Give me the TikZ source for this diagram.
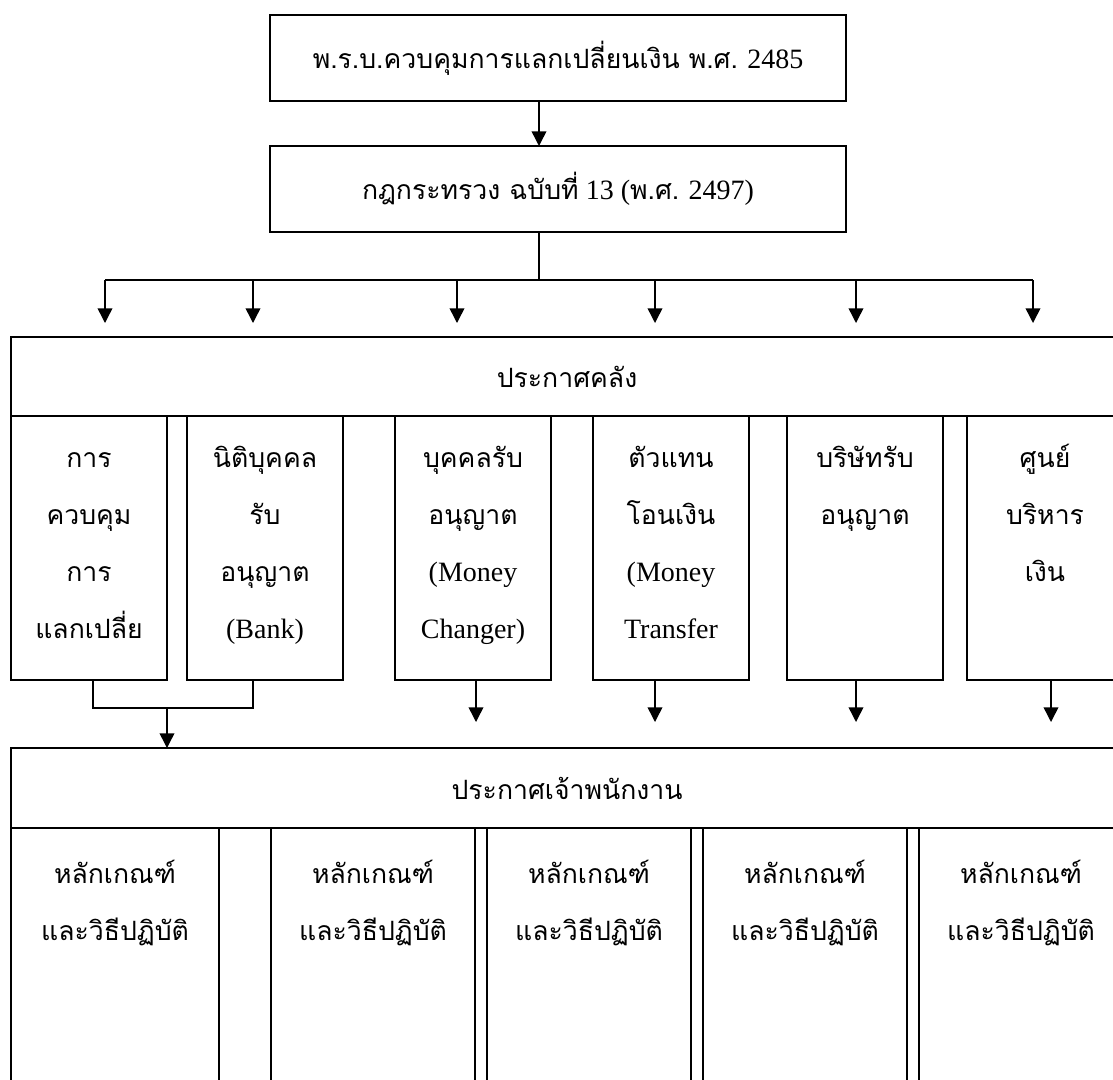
\documentclass[tikz,border=0pt]{standalone}
\usepackage{fontspec}
\setmainfont{Liberation Serif}
\newfontfamily\thaifont[Script=Thai,Scale=0.95]{Loma}
\usepackage{tikz}
\usetikzlibrary{arrows.meta,positioning,fit,calc}
\newcommand{\thtxt}[1]{{\thaifont #1}}
\newcommand{\firstln}{\rule{0pt}{22pt}}
\tikzset{
    box/.style={draw,line width=1.1pt,inner sep=0pt,outer sep=0pt},
    txt/.style={align=center,inner sep=0pt,font=\fontsize{21}{42.75}\selectfont},
    arr/.style={-{Triangle[length=11pt,width=11pt]},line width=1.1pt},
    link/.style={line width=1.1pt}
}

\begin{document}
\begin{tikzpicture}[x=0.75pt,y=-0.75pt]
  \useasboundingbox (0,0) rectangle (1113,1079);
  \clip (0,0) rectangle (1113,1079);
  % act and ministerial regulation
  \node[box,fit={(270,15) (846,101)}] (act) {};
  \node[txt] (acttxt) at (act.center) {\thtxt{พ.ร.บ.ควบคุมการแลกเปลี่ยนเงิน พ.ศ.} 2485};
  \node[box,fit={(270,146) (846,232)}] (reg) {};
  \node[txt] (regtxt) at (reg.center) {\thtxt{กฎกระทรวง ฉบับที่} 13 (\thtxt{พ.ศ.} 2497)};
  \coordinate (spine) at (539,0);
  \coordinate (bus) at (0,280);
  \draw[arr] (act.south -| spine) -- (reg.north -| spine);
  \draw[link] (reg.south -| spine) -- (spine |- bus);
  % branch arrows
  \foreach \x [count=\i] in {105,253,457,655,856,1033}
    \coordinate (u\i) at (\x,323);
  \draw[link] (u1 |- bus) -- (u6 |- bus);
  \foreach \i in {1,...,6}
    \draw[arr] (u\i |- bus) -- (u\i);
  % ministry notification
  \node[box,fit={(11,337) (1123,416)}] (notice) {};
  \node[txt] (noticetxt) at (notice.center) {\thtxt{ประกาศคลัง}};
  \foreach \l/\r [count=\i] in {11/167,187/343,395/551,593/749,787/943,967/1123}
    \node[box,fit={(\l,416) (\r,680)}] (sub\i) {};
  \node[txt,anchor=north] (subtxt1) at ($(sub1.north)+(0,22)$)
    {\firstln\thtxt{การ}\\\thtxt{ควบคุม}\\\thtxt{การ}\\\thtxt{แลกเปลี่ย}};
  \node[txt,anchor=north] (subtxt2) at ($(sub2.north)+(0,22)$)
    {\firstln\thtxt{นิติบุคคล}\\\thtxt{รับ}\\\thtxt{อนุญาต}\\(Bank)};
  \node[txt,anchor=north] (subtxt3) at ($(sub3.north)+(0,22)$)
    {\firstln\thtxt{บุคคลรับ}\\\thtxt{อนุญาต}\\(Money\\Changer)};
  \node[txt,anchor=north] (subtxt4) at ($(sub4.north)+(0,22)$)
    {\firstln\thtxt{ตัวแทน}\\\thtxt{โอนเงิน}\\(Money\\Transfer};
  \node[txt,anchor=north] (subtxt5) at ($(sub5.north)+(0,22)$)
    {\firstln\thtxt{บริษัทรับ}\\\thtxt{อนุญาต}};
  \node[txt,anchor=north] (subtxt6) at ($(sub6.north)+(0,22)$)
    {\firstln\thtxt{ศูนย์}\\\thtxt{บริหาร}\\\thtxt{เงิน}};
  % officer notification
  \node[box,fit={(11,748) (1123,828)}] (staff) {};
  \node[txt] (stafftxt) at (staff.center) {\thtxt{ประกาศเจ้าพนักงาน}};
  \coordinate (b1) at (93,708);
  \coordinate (b2) at (253,708);
  \coordinate (bm) at (167,708);
  \draw[link] (sub1.south -| b1) -- (b1) -- (b2) -- (sub2.south -| b2);
  \draw[arr] (bm) -- (bm |- staff.north);
  \foreach \x [count=\i from 3] in {476,655,856,1051} {
    \coordinate (d\i) at (\x,722);
    \draw[arr] (d\i |- sub\i.south) -- (d\i);
  }
  % rules and procedures
  \foreach \l/\r [count=\i] in {11/219,271/475,487/691,703/907,919/1123} {
    \node[box,fit={(\l,828) (\r,1110)}] (rule\i) {};
    \node[txt,anchor=north] (ruletxt\i) at ($(rule\i.north)+(0,26)$)
      {\firstln\thtxt{หลักเกณฑ์}\\\thtxt{และวิธีปฏิบัติ}};
  }
\end{tikzpicture}
\end{document}
